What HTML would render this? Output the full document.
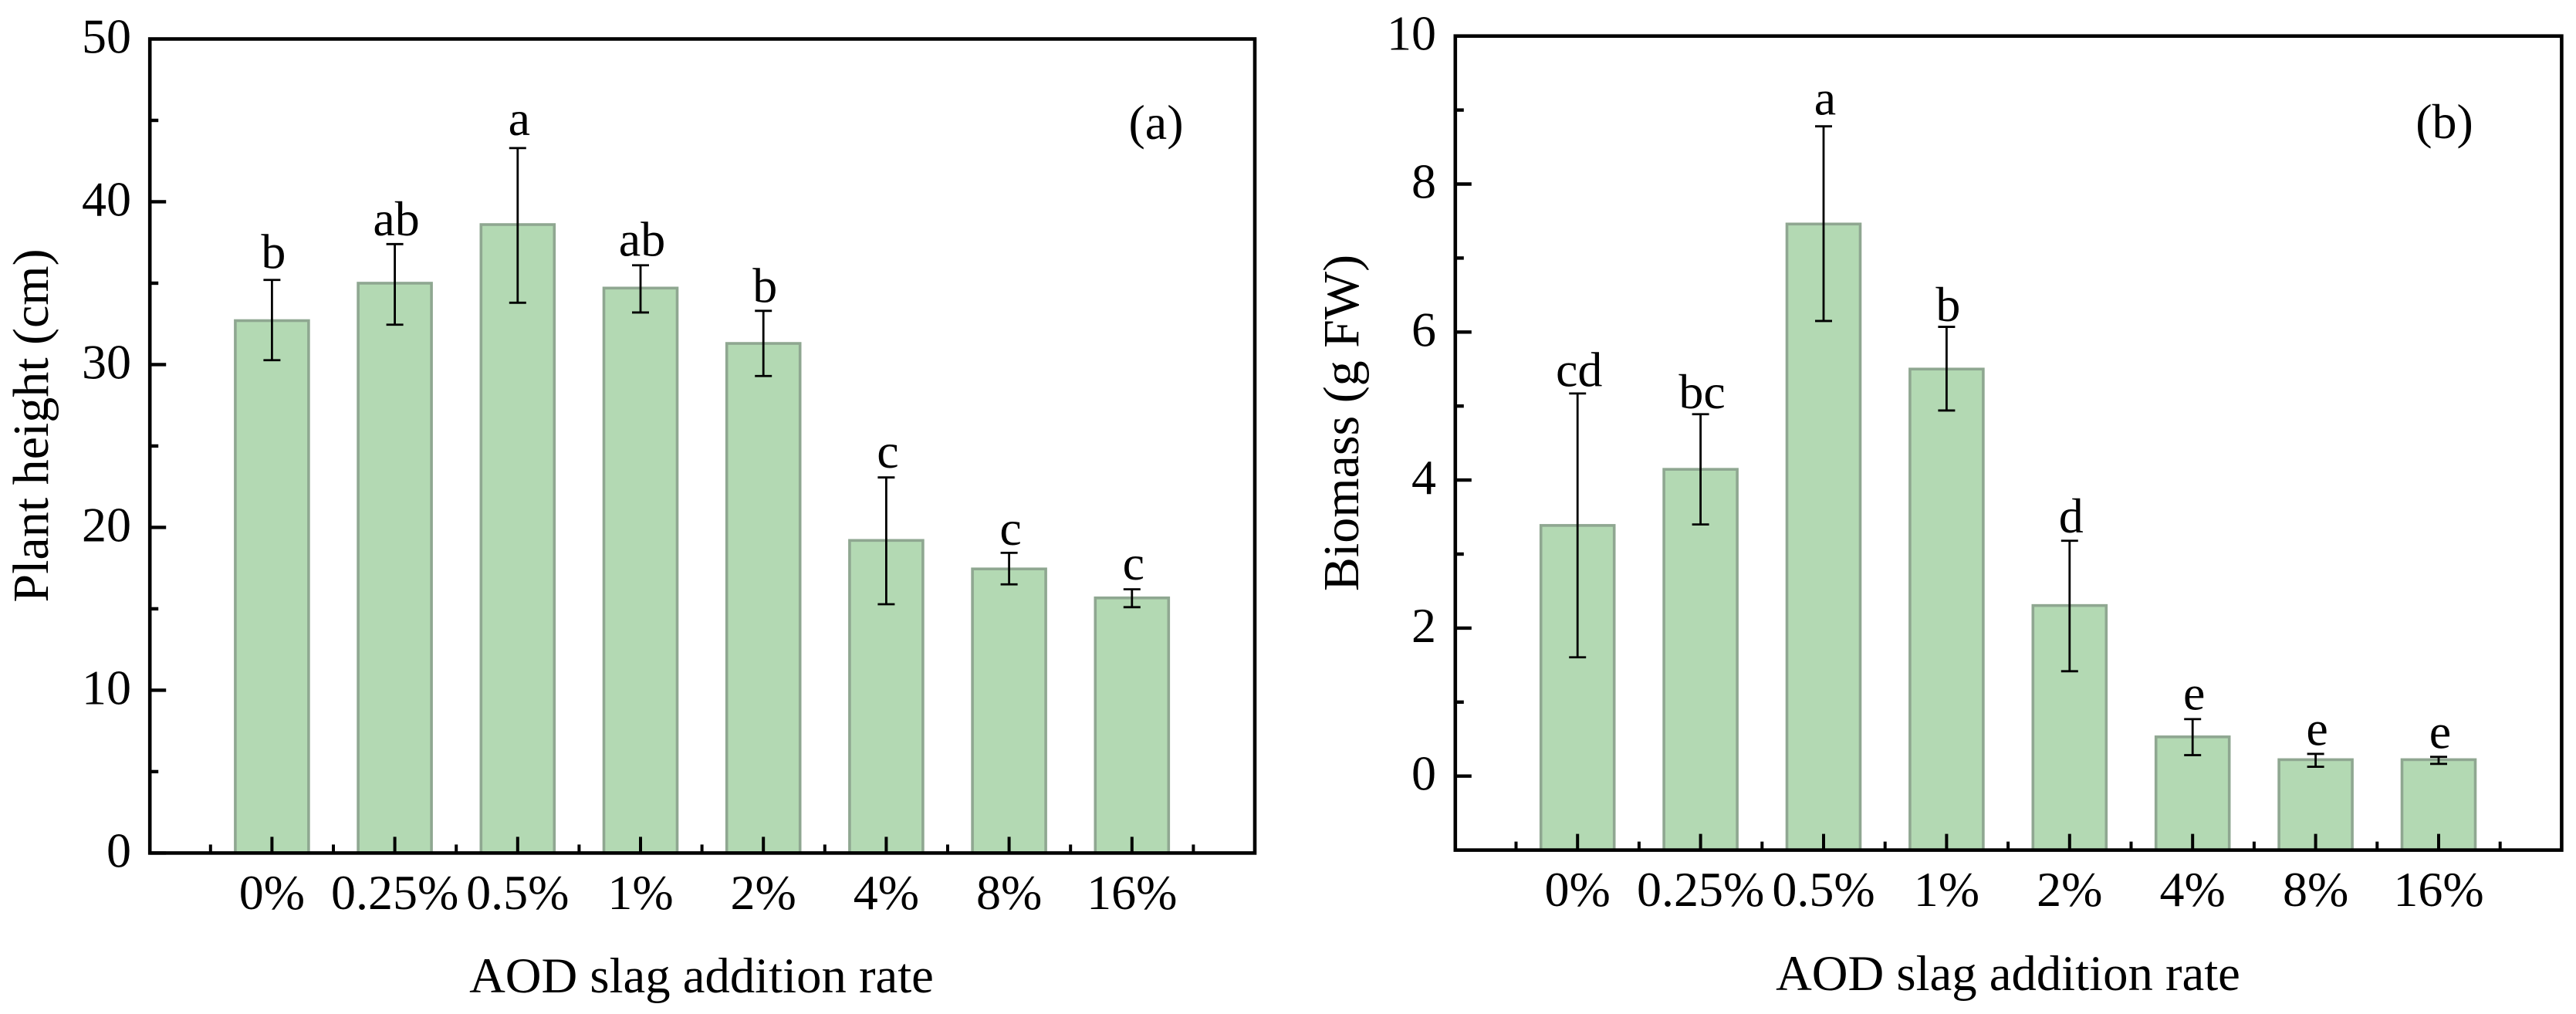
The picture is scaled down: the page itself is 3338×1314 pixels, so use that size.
<!DOCTYPE html>
<html lang="en">
<head>
<meta charset="utf-8">
<title>Plant height and biomass by AOD slag addition rate</title>
<style>
  html, body { margin: 0; padding: 0; background: #fff; }
  body { width: 3338px; height: 1314px; overflow: hidden; }
  svg { display: block; }
  text { font-family: "Liberation Serif", "Times New Roman", serif; fill: #000; }
</style>
</head>
<body>
<svg id="figure" xmlns="http://www.w3.org/2000/svg" width="3338" height="1314" viewBox="0 0 3338 1314">
  <rect x="0" y="0" width="3338" height="1314" fill="#fff"/>

  <g id="panel-a">
    <text font-size="66" text-anchor="middle" transform="translate(62 551.5) rotate(-90)">Plant height (cm)</text>
    <text font-size="64.7" text-anchor="middle" x="909" y="1286">AOD slag addition rate</text>
    <text font-size="64" text-anchor="middle" x="1498" y="180">(a)</text>
  </g>

  <g id="panel-b">
    <text font-size="66" text-anchor="middle" transform="translate(1760 548) rotate(-90)">Biomass (g FW)</text>
    <text font-size="64.7" text-anchor="middle" x="2602" y="1283">AOD slag addition rate</text>
    <text font-size="64" text-anchor="middle" x="3167.5" y="179">(b)</text>
  </g>
</svg>

<script>
// Shared categories
const categories = ['0%', '0.25%', '0.5%', '1%', '2%', '4%', '8%', '16%'];

// Panel (a): plant height, cm
const heightMeans = [32.7, 35.0, 38.6, 34.7, 31.3, 19.2, 17.45, 15.67];
const heightUpper = [35.2, 37.4, 43.3, 36.1, 33.3, 23.07, 18.44, 16.2];
const heightLower = [30.27, 32.45, 33.8, 33.2, 29.3, 15.28, 16.5, 15.1];
const heightLetters = ['b', 'ab', 'a', 'ab', 'b', 'c', 'c', 'c'];
const heightLetterLevels = [35.92, 37.94, 44.11, 36.68, 33.84, 23.67, 18.93, 16.8];
const heightMajorTicks = [0, 10, 20, 30, 40, 50];
const heightMinorTicks = [5, 15, 25, 35, 45];

// Panel (b): biomass, g FW
const biomassMeans = [3.387, 4.145, 7.46, 5.5, 2.305, 0.53, 0.222, 0.222];
const biomassUpper = [5.17, 4.89, 8.78, 6.07, 3.18, 0.77, 0.3, 0.26];
const biomassLower = [1.605, 3.4, 6.15, 4.94, 1.417, 0.283, 0.126, 0.165];
const biomassLetters = ['cd', 'bc', 'a', 'b', 'd', 'e', 'e', 'e'];
const biomassLetterLevels = [5.27, 4.97, 8.94, 6.15, 3.29, 0.9, 0.417, 0.379];
const biomassMajorTicks = [0, 2, 4, 6, 8, 10];
const biomassMinorTicks = [1, 3, 5, 7, 9];

const SVG_NS = 'http://www.w3.org/2000/svg';

function node(parent, tag, attrs) {
  const el = document.createElementNS(SVG_NS, tag);
  Object.keys(attrs).forEach(function (k) { el.setAttribute(k, attrs[k]); });
  parent.appendChild(el);
  return el;
}

function drawPanel(p) {
  const root = document.getElementById(p.id);
  const x = function (i) { return p.x0 + p.xStep * (i + 1); };
  const y = function (v) { return p.yZero - p.yUnit * v; };
  const plotLeft = p.x0 + 1;
  const plotRight = p.x0 + p.xStep * 9;
  const plotTop = y(p.yMax);
  const plotBottom = y(p.yMin);
  const barWidth = 95;

  // Bars
  categories.forEach(function (cat, i) {
    const bar = node(root, 'rect', {
      x: x(i) - barWidth / 2,
      y: y(p.means[i]),
      width: barWidth,
      height: plotBottom - y(p.means[i]),
      fill: '#b3d9b3',
      stroke: '#8fa791',
      'stroke-width': 3.6
    });
    
    
  });

  // Error bars
  categories.forEach(function (cat, i) {
    const g = node(root, 'g', { stroke: '#000', 'stroke-width': 2.8, fill: 'none' });
    
    
    node(g, 'line', { x1: x(i), x2: x(i), y1: y(p.upper[i]), y2: y(p.lower[i]) });
    node(g, 'line', { x1: x(i) - 11, x2: x(i) + 11, y1: y(p.upper[i]), y2: y(p.upper[i]) });
    node(g, 'line', { x1: x(i) - 11, x2: x(i) + 11, y1: y(p.lower[i]), y2: y(p.lower[i]) });
  });

  // Significance letters
  categories.forEach(function (cat, i) {
    const t = node(root, 'text', {
      x: x(i) + 2,
      y: y(p.letterLevels[i]),
      'font-size': 64,
      'text-anchor': 'middle'
    });
    t.textContent = p.letters[i];
    
    
  });

  // Frame
  const frame = node(root, 'rect', {
    x: plotLeft,
    y: plotTop,
    width: plotRight - plotLeft,
    height: plotBottom - plotTop,
    fill: 'none',
    stroke: '#000',
    'stroke-width': 4.6
  });
  
  

  // Y ticks and labels
  p.majorTicks.forEach(function (v) {
    if (v !== p.yMax) {
      const tick = node(root, 'line', {
        x1: plotLeft, x2: plotLeft + 21, y1: y(v), y2: y(v),
        stroke: '#000', 'stroke-width': 4.4
      });
      
      
    }
    const label = node(root, 'text', {
      x: p.yLabelX,
      y: y(v) + 18,
      'font-size': 64,
      'text-anchor': 'end'
    });
    label.textContent = String(v);
    
    
  });
  p.minorTicks.forEach(function (v) {
    const tick = node(root, 'line', {
      x1: plotLeft, x2: plotLeft + 11, y1: y(v), y2: y(v),
      stroke: '#000', 'stroke-width': 4.4
    });
    
    
  });

  // X ticks and labels
  categories.forEach(function (cat, i) {
    const tick = node(root, 'line', {
      x1: x(i), x2: x(i), y1: plotBottom, y2: plotBottom - 21,
      stroke: '#000', 'stroke-width': 4
    });
    
    
    const label = node(root, 'text', {
      x: x(i),
      y: p.xLabelY,
      'font-size': 64,
      'text-anchor': 'middle'
    });
    label.textContent = cat;
    
    
  });
  for (let i = -1; i < categories.length; i++) {
    const tick = node(root, 'line', {
      x1: x(i + 0.5), x2: x(i + 0.5), y1: plotBottom, y2: plotBottom - 11,
      stroke: '#000', 'stroke-width': 4
    });
    
    
  }
}

drawPanel({
  id: 'panel-a', key: 'height',
  means: heightMeans, upper: heightUpper, lower: heightLower,
  letters: heightLetters, letterLevels: heightLetterLevels,
  majorTicks: heightMajorTicks, minorTicks: heightMinorTicks,
  x0: 193.2, xStep: 159.2, yZero: 1105.4, yUnit: 21.098, yMin: 0, yMax: 50,
  yLabelX: 170, xLabelY: 1178
});

drawPanel({
  id: 'panel-b', key: 'biomass',
  means: biomassMeans, upper: biomassUpper, lower: biomassLower,
  letters: biomassLetters, letterLevels: biomassLetterLevels,
  majorTicks: biomassMajorTicks, minorTicks: biomassMinorTicks,
  x0: 1884.8, xStep: 159.4, yZero: 1005.7, yUnit: 95.9, yMin: -1, yMax: 10,
  yLabelX: 1861, xLabelY: 1174
});
</script>
</body>
</html>
